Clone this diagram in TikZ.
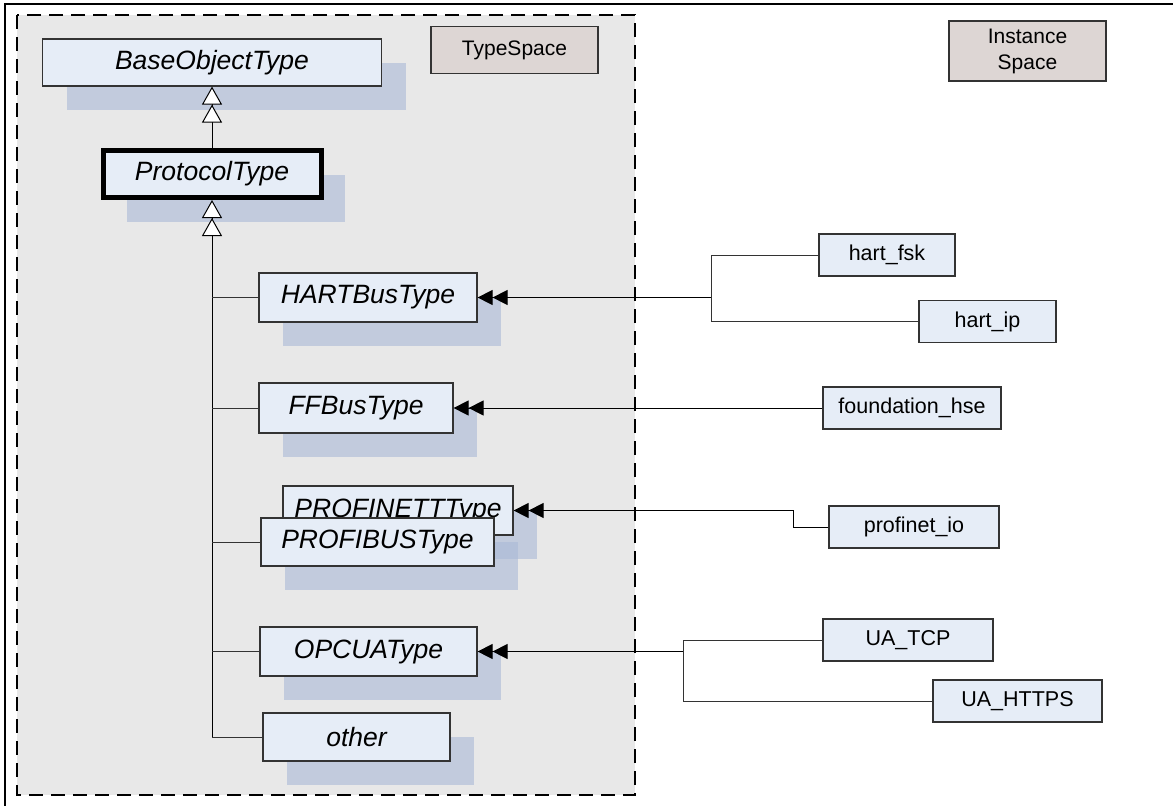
\documentclass[tikz,border=0pt]{standalone}
\usepackage{fontspec}
\setmainfont{Liberation Sans}
\usetikzlibrary{arrows.meta,shadows}

\definecolor{typefill}{RGB}{230,237,247}
\definecolor{spacefill}{RGB}{221,214,212}
\definecolor{bggray}{RGB}{232,232,232}
\definecolor{shadowblue}{RGB}{169,185,215}
\definecolor{edgegray}{RGB}{51,51,51}

\tikzset{
  typebox/.style={draw=edgegray, line width=1.2pt, fill=typefill, inner sep=0pt,
    font=\fontsize{26.5}{30}\selectfont\itshape,
    drop shadow={shadow xshift=24pt, shadow yshift=-24pt, fill=shadowblue, opacity=.6}},
  instbox/.style={draw=edgegray, line width=1.2pt, fill=typefill, inner sep=0pt,
    minimum height=42pt, font=\fontsize{21.5}{25}\selectfont},
  spacebox/.style={draw=edgegray, line width=1.2pt, fill=spacefill, inner sep=0pt,
    align=center, font=\fontsize{21}{26}\selectfont},
  subtype/.style={draw=black, line width=1pt,
    -{Triangle[length=18pt,width=20pt,fill=white]Triangle[length=18pt,width=20pt,fill=white]}},
  branch/.style={draw=edgegray, line width=1pt},
  instof/.style={draw=black, line width=1pt,
    -{Triangle[length=15pt,width=15pt]Triangle[length=15pt,width=15pt]}},
}

\begin{document}
\begin{tikzpicture}[x=1pt, y=-1pt]
    \useasboundingbox (0,0) rectangle (1173,806);

    % 枠
    \draw[line width=2pt] (5,806) -- (5,4) -- (1173,4);
    \draw[fill=bggray, line width=1.5pt, dash pattern=on 14pt off 8pt] (17,15) rectangle (635,795);

    % 空間のラベル
    \node[spacebox, minimum width=167pt, minimum height=47pt] (typespace) at (514.5,50) {TypeSpace};
    \node[spacebox, minimum width=157pt, minimum height=60pt] (instspace) at (1027.5,51) {Instance\\Space};

    % 型
    \node[typebox, minimum width=339pt, minimum height=47pt] (base) at (212,62.5) {BaseObjectType};
    \node[typebox, draw=black, line width=5pt, minimum width=218pt, minimum height=47pt] (proto) at (212,174) {ProtocolType};
    \node[typebox, minimum width=218pt, minimum height=49pt] (hart) at (368,297.5) {HARTBusType};
    \node[typebox, minimum width=194pt, minimum height=50pt] (ff) at (356,408) {FFBusType};
    \node[typebox, minimum width=230pt, minimum height=49pt] (pnet) at (398,510.5) {PROFINETTType};
    \node[typebox, minimum width=233pt, minimum height=48pt] (pbus) at (377.5,542) {PROFIBUSType};
    \node[typebox, minimum width=217pt, minimum height=49pt] (opcua) at (368.5,651.5) {OPCUAType};
    \node[typebox, minimum width=187pt, minimum height=48pt] (other) at (356.5,737) {other};

    % インスタンス
    \node[instbox, minimum width=136pt] (hartfsk) at (887,255) {hart\_fsk};
    \node[instbox, minimum width=137pt] (hartip) at (987.5,321.5) {hart\_ip};
    \node[instbox, minimum width=178pt] (fhse) at (912,408) {foundation\_hse};
    \node[instbox, minimum width=170pt] (pio) at (914,527) {profinet\_io};
    \node[instbox, minimum width=170pt] (uatcp) at (908,640) {UA\_TCP};
    \node[instbox, minimum width=169pt] (uahttps) at (1017.5,701) {UA\_HTTPS};

    % 継承
    \draw[subtype] (proto.north) -- (base.south);
    \coordinate (trunk) at (212,737);
    \draw[subtype] (trunk) -- (proto.south);
    \draw[branch] (hart.west) -- (hart.west -| trunk);
    \draw[branch] (ff.west) -- (ff.west -| trunk);
    \draw[branch] (pbus.west) -- (pbus.west -| trunk);
    \draw[branch] (opcua.west) -- (opcua.west -| trunk);
    \draw[branch] (other.west) -- (trunk);

    % 型とインスタンス
    \coordinate (hartjoin) at (711,297.5);
    \draw[instof] (hartjoin) -- (hart.east);
    \draw[branch] (hartfsk.west) -| (hartjoin);
    \draw[branch] (hartip.west) -| (hartjoin);

    \draw[instof] (fhse.west) -- (ff.east);

    \coordinate (pnetbend) at (793,510.5);
    \draw[instof] (pio.west) -| (pnetbend) -- (pnet.east);

    \coordinate (uajoin) at (683,651.5);
    \draw[instof] (uajoin) -- (opcua.east);
    \draw[branch] (uatcp.west) -| (uajoin);
    \draw[branch] (uahttps.west) -| (uajoin);
\end{tikzpicture}
\end{document}
